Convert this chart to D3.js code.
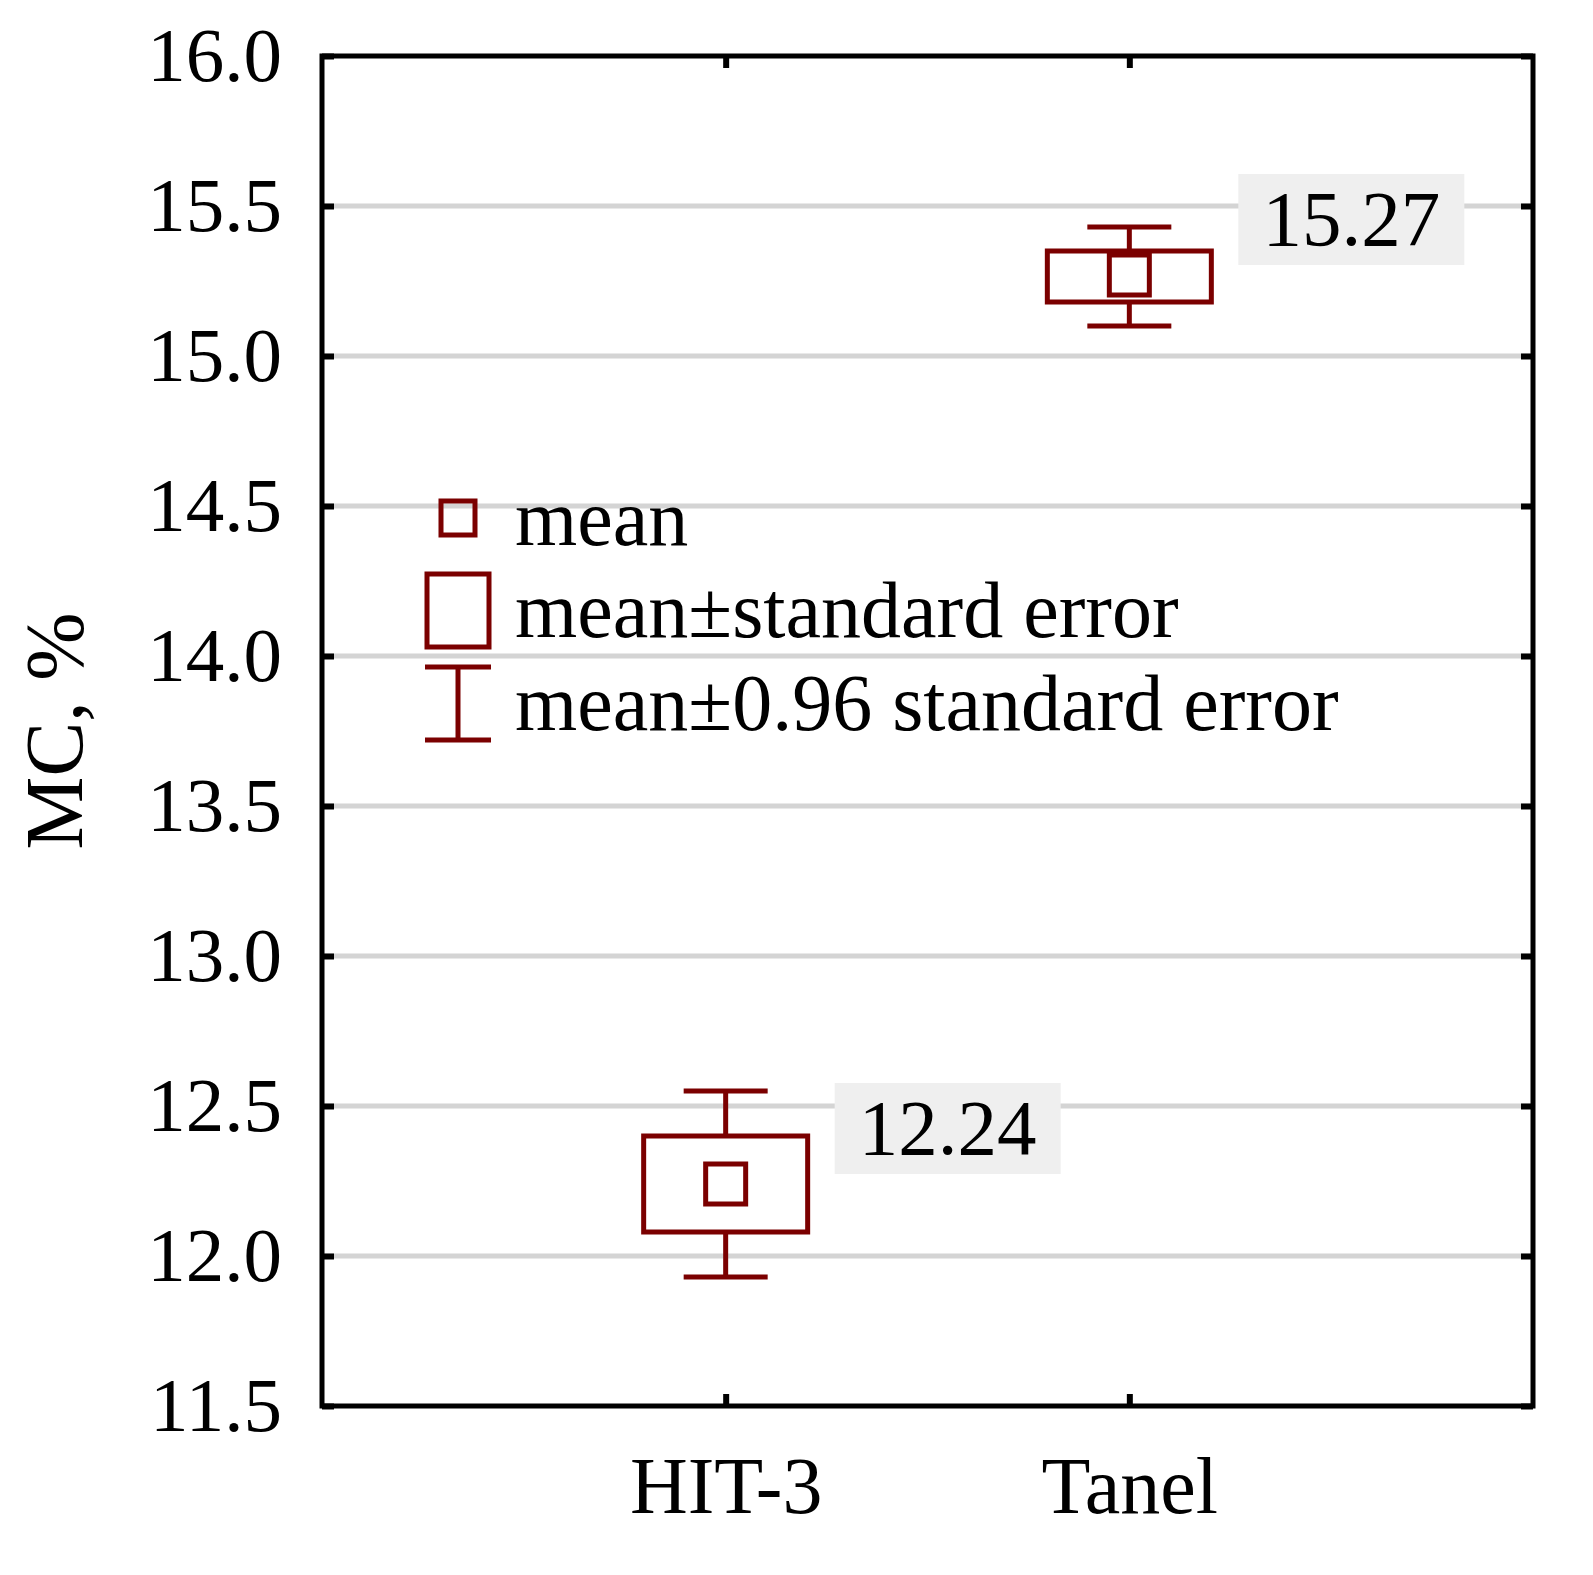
<!DOCTYPE html>
<html><head><meta charset="utf-8">
<script src="https://cdn.jsdelivr.net/npm/d3@7"></script>
<style>body{margin:0;background:#fff}</style>
</head><body>
<svg id="chart" width="1593" height="1575"></svg>
<script>
const categories = ['HIT-3', 'Tanel'];
const means = [12.24, 15.27];
const seLow = [12.08, 15.18];
const seHigh = [12.40, 15.35];
const ciLow = [11.93, 15.10];
const ciHigh = [12.55, 15.43];
const yTicks = [11.5, 12.0, 12.5, 13.0, 13.5, 14.0, 14.5, 15.0, 15.5, 16.0];

const col = '#7b0000';
const font = 'Liberation Serif, Times New Roman, serif';
const M = { left: 322, right: 1533, top: 56, bottom: 1406 };

const svg = d3.select('#chart');
const x = d3.scalePoint().domain(categories).range([M.left, M.right]).padding(1);
const y = d3.scaleLinear().domain([11.5, 16]).range([M.bottom, M.top]);

// grid
svg.selectAll('.grid').data(yTicks.slice(1, -1)).enter().append('line')
  .attr('x1', M.left).attr('x2', M.right)
  .attr('y1', d => y(d)).attr('y2', d => y(d))
  .attr('stroke', '#d4d4d4').attr('stroke-width', 5);

// axes
const fmt = d3.format('.1f');
const ax = [
  svg.append('g').attr('transform', `translate(${M.left},0)`).call(d3.axisLeft(y).tickValues(yTicks).tickFormat(fmt).tickSize(-12).tickPadding(40)),
  svg.append('g').attr('transform', `translate(${M.right},0)`).call(d3.axisRight(y).tickValues(yTicks).tickFormat('').tickSize(-12)),
  svg.append('g').attr('transform', `translate(0,${M.bottom})`).call(d3.axisBottom(x).tickSize(-12).tickPadding(50)),
  svg.append('g').attr('transform', `translate(0,${M.top})`).call(d3.axisTop(x).tickFormat('').tickSize(-12))
];
ax.forEach(g => {
  g.select('.domain').remove();
  g.selectAll('.tick line').attr('stroke', '#000').attr('stroke-width', 6);
  g.selectAll('text').attr('fill', '#000').style('font-family', font).style('font-size', '77px');
});
ax[2].selectAll('text').style('font-size', '80px');
svg.append('rect').attr('x', M.left).attr('y', M.top).attr('width', M.right - M.left).attr('height', M.bottom - M.top)
  .attr('fill', 'none').attr('stroke', '#000').attr('stroke-width', 5);

svg.append('text').attr('transform', `translate(82,${(M.top + M.bottom) / 2}) rotate(-90)`)
  .attr('text-anchor', 'middle').style('font-family', font).style('font-size', '82px').text('MC, %');

// boxes
const g = svg.selectAll('.cat').data(categories).enter().append('g');
const st = s => s.attr('stroke', col).attr('stroke-width', 5).attr('fill', 'none');
st(g.append('line').attr('x1', d => x(d)).attr('x2', d => x(d)).attr('y1', (d, i) => y(ciHigh[i])).attr('y2', (d, i) => y(seHigh[i])));
st(g.append('line').attr('x1', d => x(d)).attr('x2', d => x(d)).attr('y1', (d, i) => y(seLow[i])).attr('y2', (d, i) => y(ciLow[i])));
[ciHigh, ciLow].forEach(arr => st(g.append('line').attr('x1', d => x(d) - 42).attr('x2', d => x(d) + 42)
  .attr('y1', (d, i) => y(arr[i])).attr('y2', (d, i) => y(arr[i]))));
st(g.append('rect').attr('x', d => x(d) - 82).attr('width', 164)
  .attr('y', (d, i) => y(seHigh[i])).attr('height', (d, i) => y(seLow[i]) - y(seHigh[i])));
st(g.append('rect').attr('x', d => x(d) - 20).attr('width', 40)
  .attr('y', (d, i) => y(means[i]) - 20).attr('height', 40)).attr('fill', '#fff');
// value labels
g.append('rect').attr('x', d => x(d) + 109).attr('width', 226)
  .attr('y', (d, i) => y(means[i]) - 101).attr('height', 91).attr('fill', '#efefef');
g.append('text').attr('x', d => x(d) + 222).attr('y', (d, i) => y(means[i]) - 30)
  .attr('text-anchor', 'middle').style('font-family', font).style('font-size', '79px')
  .text((d, i) => means[i].toFixed(2));

// legend
const lg = svg.append('g');
st(lg.append('rect').attr('x', 441).attr('y', 501).attr('width', 34).attr('height', 34));
st(lg.append('rect').attr('x', 427).attr('y', 574).attr('width', 62).attr('height', 73));
st(lg.append('line').attr('x1', 458).attr('x2', 458).attr('y1', 667).attr('y2', 740));
st(lg.append('line').attr('x1', 425).attr('x2', 491).attr('y1', 667).attr('y2', 667));
st(lg.append('line').attr('x1', 425).attr('x2', 491).attr('y1', 740).attr('y2', 740));
const legendText = ['mean', 'mean\u00b1standard error', 'mean\u00b10.96 standard error'];
lg.selectAll('.lt').data(legendText).enter().append('text')
  .attr('x', 515).attr('y', (d, i) => [545, 637, 730][i])
  .style('font-family', font).style('font-size', '80px').text(d => d);
</script>
</body></html>
